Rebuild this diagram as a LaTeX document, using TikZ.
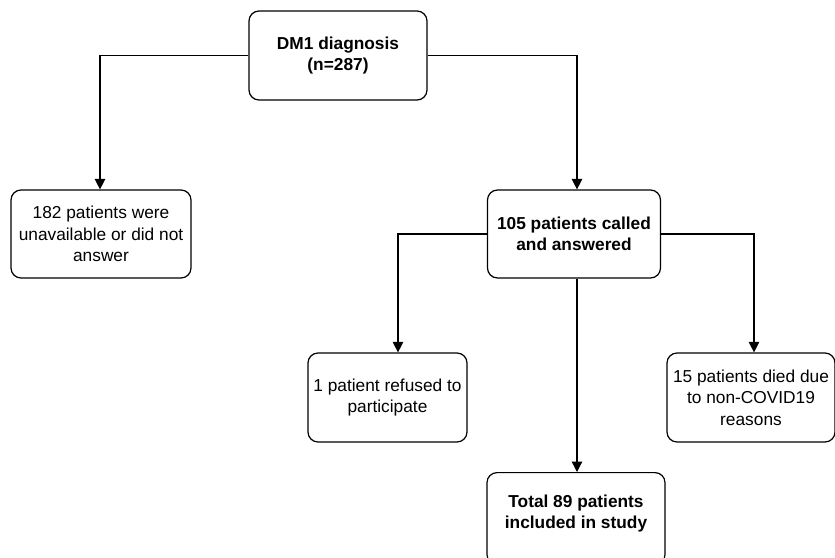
\documentclass[tikz,border=0pt]{standalone}
\usepackage{fontspec}
\setmainfont{Liberation Sans}
\usetikzlibrary{arrows.meta}
\begin{document}
\begin{tikzpicture}[x=1pt,y=-1pt,
  box/.style={draw=black, line width=1.2pt, rounded corners=10pt, align=center,
    font=\fontsize{17.3}{21.5}\selectfont, inner sep=2pt},
  conn/.style={line width=1.2pt, -{Triangle[length=10.5pt,width=10.5pt]}}]
\clip (0,0) rectangle (835,557);
\useasboundingbox (0,0) rectangle (835,557);
\node[box, minimum width=178pt, minimum height=89pt] (dm) at (338,55.5) {\textbf{DM1 diagnosis}\\\textbf{(n=287)}};
\node[box, minimum width=180pt, minimum height=88pt] (un) at (101,234) {182 patients were\\unavailable or did not\\answer};
\node[box, minimum width=173pt, minimum height=88pt] (ca) at (574,234) {\textbf{105 patients called}\\\textbf{and answered}};
\node[box, minimum width=159pt, minimum height=89pt] (re) at (387.5,397.5) {1 patient refused to\\participate};
\node[box, minimum width=168pt, minimum height=89pt] (di) at (751,397.5) {15 patients died due\\to non-COVID19\\reasons};
\node[box, minimum width=178pt, minimum height=92pt, anchor=north] (to) at (576,472) {\textbf{Total 89 patients}\\\textbf{included in study}\\[-8pt]};
\draw[conn] (dm.west) -| ([xshift=-1pt]un.north);
\draw[conn] (dm.east) -| ([xshift=3pt]ca.north);
\draw[conn] (ca.west) -| ([xshift=10.5pt]re.north);
\draw[conn] (ca.east) -| ([xshift=3pt]di.north);
\draw[conn] ([xshift=3pt]ca.south) -- ([xshift=3pt]ca.south |- to.north);
\end{tikzpicture}
\end{document}
